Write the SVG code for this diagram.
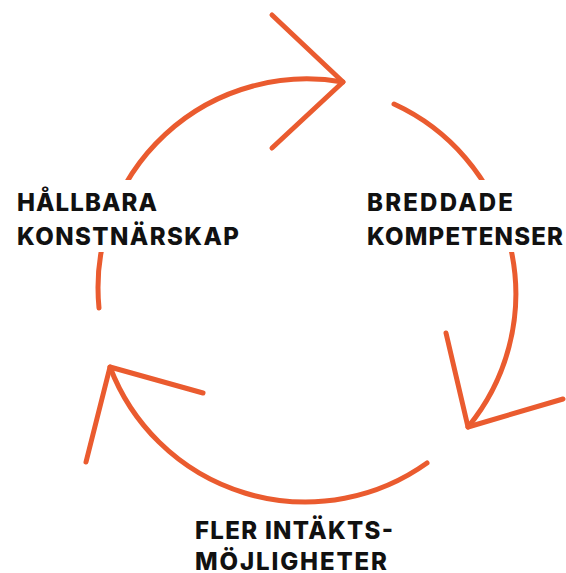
<svg xmlns="http://www.w3.org/2000/svg" width="566" height="573" viewBox="0 0 566 573">
<style>
.arc{fill:none;stroke:#EA5B2F;stroke-width:5;stroke-linecap:round;stroke-linejoin:round}
.lbl{font-family:Inter,"Liberation Sans",sans-serif;font-weight:800;font-size:24px;fill:#111111}
.mask{fill:#ffffff}
</style>
<rect width="566" height="573" fill="#ffffff"/>
<g id="connectors">
<path class="arc" d="M99,308 A209,209 0 0 1 343,82"/>
<path class="arc" d="M272,15 L343,82 L272,148"/>
<path class="arc" d="M394,104 A209,209 0 0 1 468,427"/>
<path class="arc" d="M446,333 L468,427 L563,399"/>
<path class="arc" d="M427,463 A209,209 0 0 1 110,367"/>
<path class="arc" d="M86,462 L110,367 L203,393"/>
</g>
<g id="node-hallbara">
<rect class="mask" x="10" y="180" width="240" height="72"/>
<text class="lbl" x="17" y="211" textLength="140" lengthAdjust="spacing">HÅLLBARA</text>
<text class="lbl" x="17" y="245" textLength="222" lengthAdjust="spacing">KONSTNÄRSKAP</text>
</g>
<g id="node-breddade">
<rect class="mask" x="360" y="180" width="206" height="72"/>
<text class="lbl" x="367" y="211" textLength="146" lengthAdjust="spacing">BREDDADE</text>
<text class="lbl" x="367" y="245" textLength="196" lengthAdjust="spacing">KOMPETENSER</text>
</g>
<g id="node-fler">
<text class="lbl" x="195" y="539" textLength="198" lengthAdjust="spacing">FLER INTÄKTS-</text>
<text class="lbl" x="195" y="570" textLength="192" lengthAdjust="spacing">MÖJLIGHETER</text>
</g>
</svg>
